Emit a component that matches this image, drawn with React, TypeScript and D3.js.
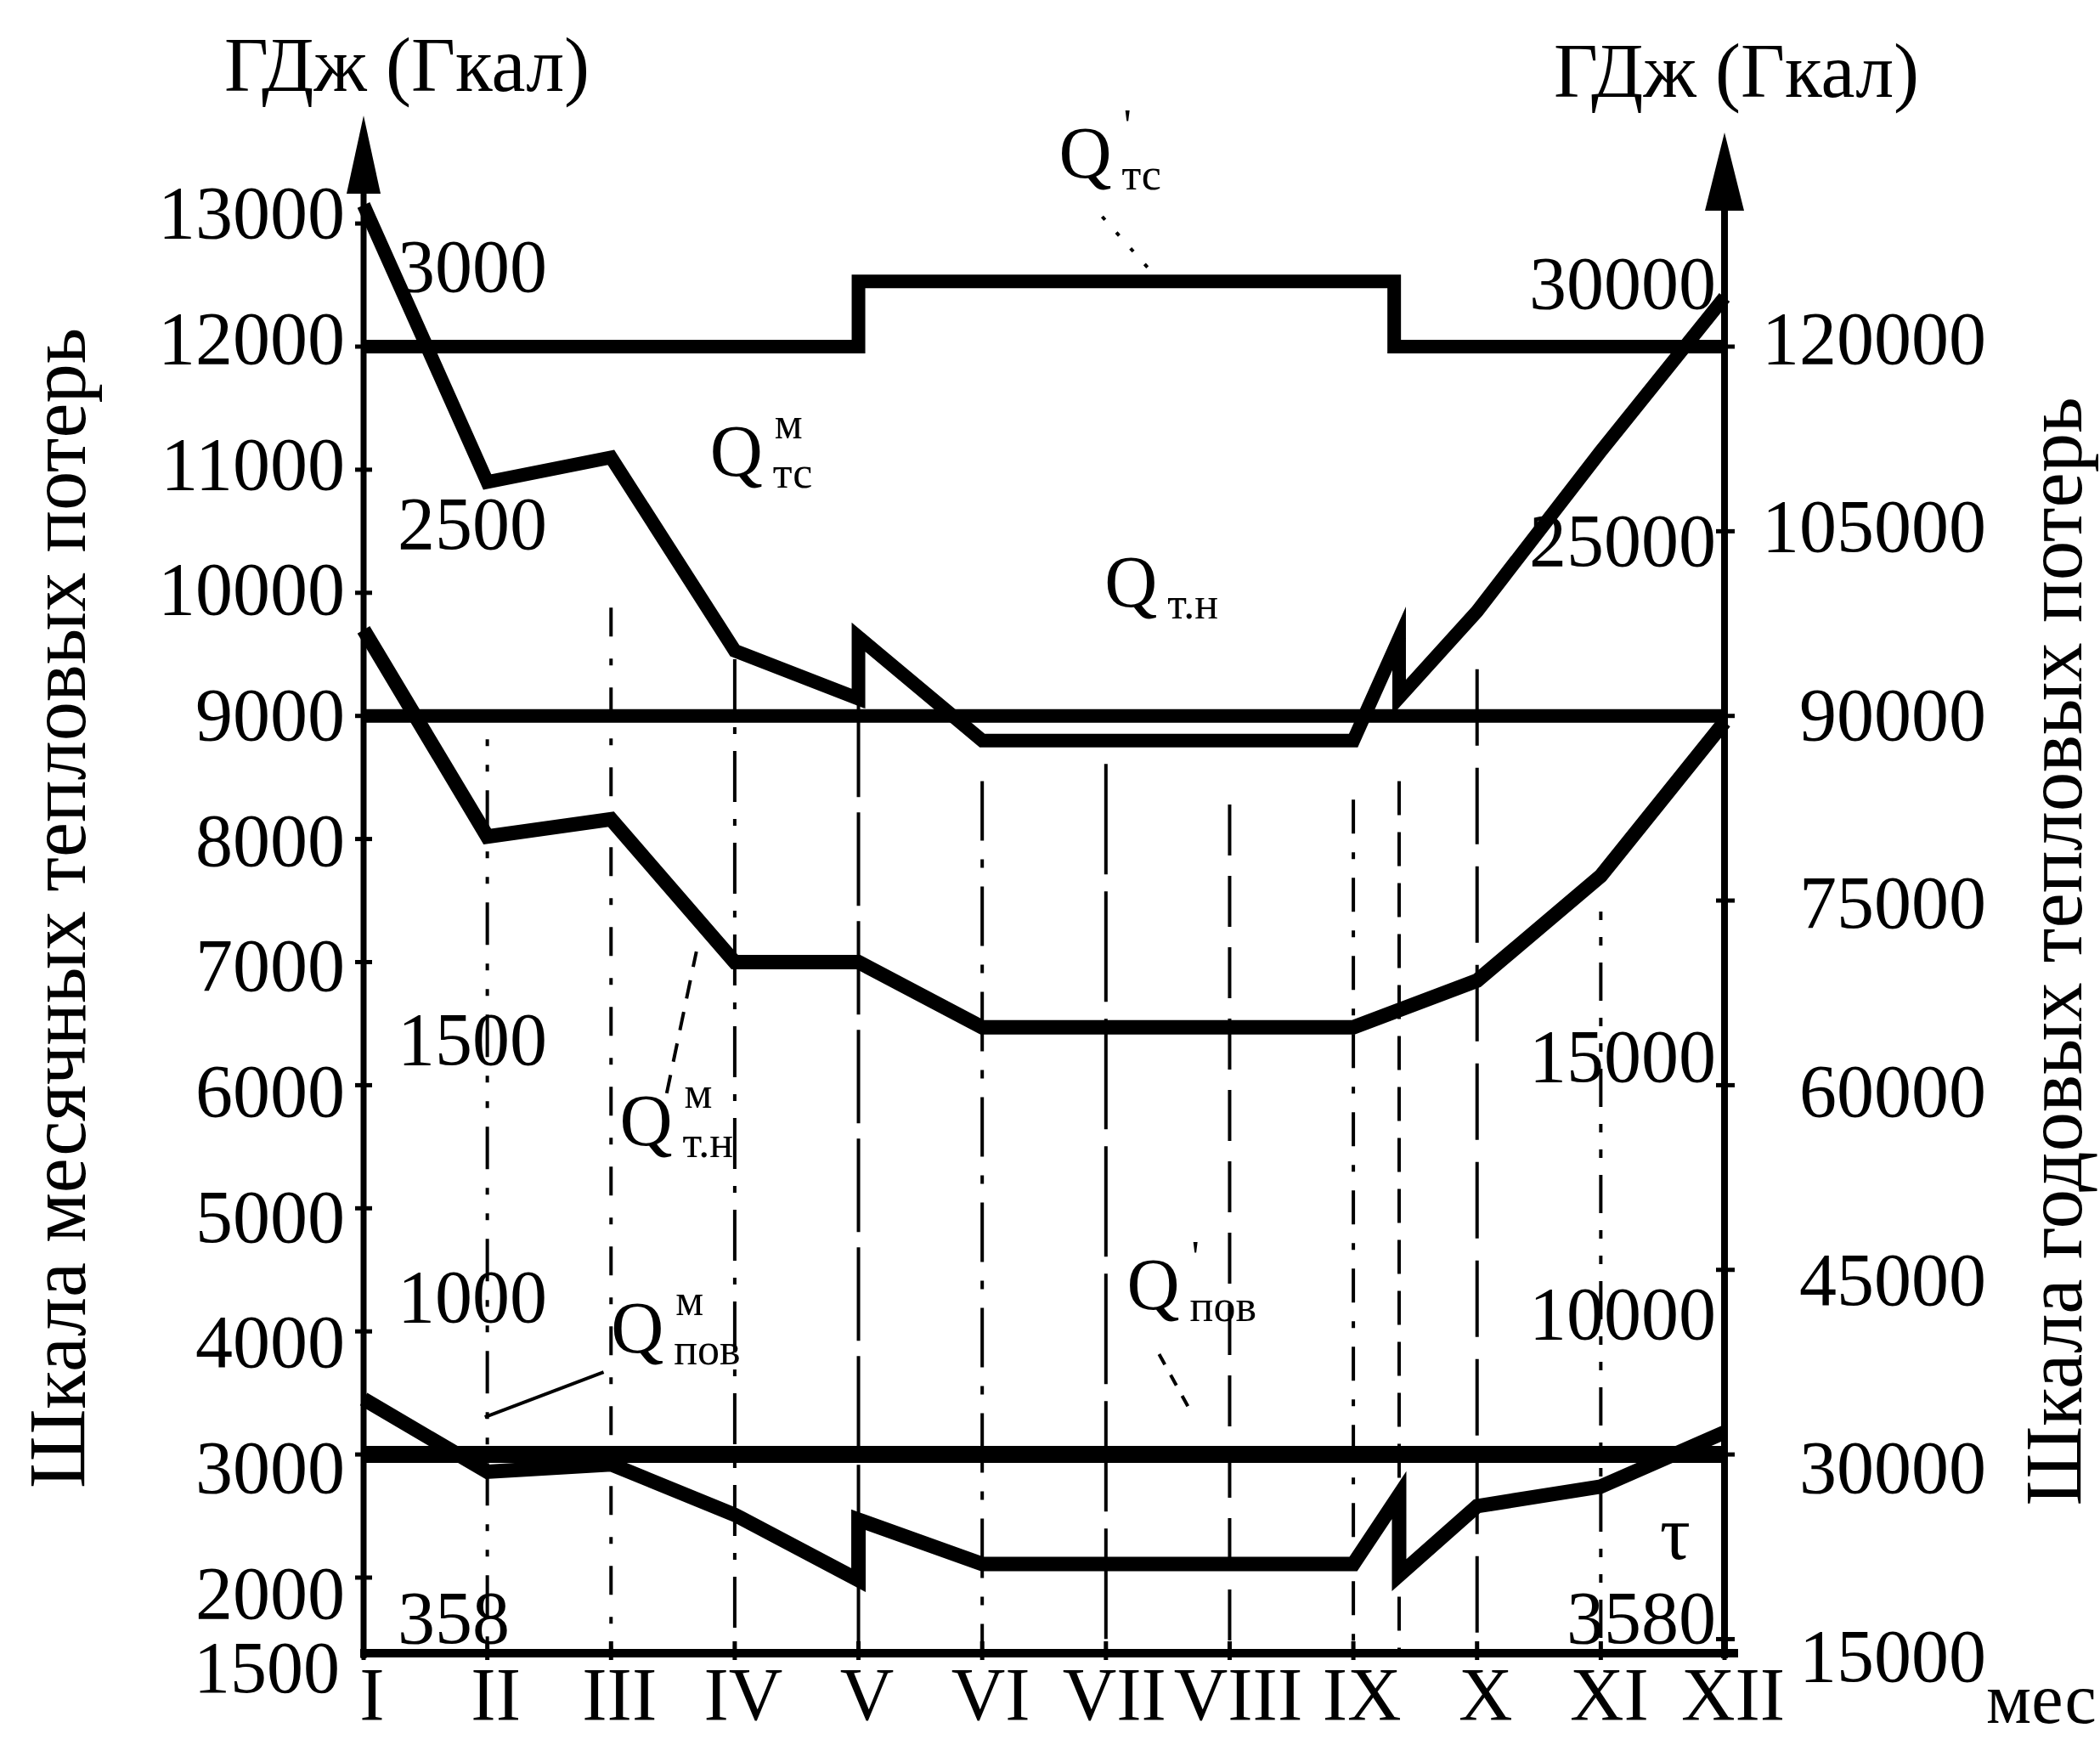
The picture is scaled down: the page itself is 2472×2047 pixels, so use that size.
import React from "react";
import * as d3 from "d3";

// ---------- data ----------
const MONTHS = [1, 2, 3, 4, 5, 6, 7, 8, 9, 10, 11, 12];
const MONTH_LABELS = ["I", "II", "III", "IV", "V", "VI", "VII", "VIII", "IX", "X", "XI", "XII"];
const LEFT_TICKS = [13000, 12000, 11000, 10000, 9000, 8000, 7000, 6000, 5000, 4000, 3000, 2000];
const LEFT_AXIS_MIN_LABEL = "1500";
const RIGHT_TICKS = [120000, 105000, 90000, 75000, 60000, 45000, 30000, 15000];
const INNER_LEFT = [3000, 2500, 1500, 1000, 358]; // Гкал (month)
const INNER_RIGHT = [30000, 25000, 15000, 10000, 3580]; // Гкал (year)
const GJ_PER_GCAL = 4.1868;

// series: [month, ГДж on the monthly scale]
const Q_TC_YEAR: [number, number][] = [[1, 12000], [5, 12000], [5, 12530], [9.33, 12530], [9.33, 12000], [12, 12000]];
const Q_M_TC: [number, number][] = [[1, 13150], [2, 10900], [3, 11100], [4, 9530], [5, 9140], [5, 9640], [6, 8800], [9, 8800], [9.37, 9630], [9.37, 9150], [10, 9850], [11, 11150], [12, 12400]];
const Q_TN_YEAR: [number, number][] = [[1, 9000], [12, 9000]];
const Q_M_TN: [number, number][] = [[1, 9700], [2, 8020], [3, 8160], [4, 7000], [5, 7000], [6, 6470], [9, 6470], [10, 6850], [11, 7700], [12, 8950]];
const Q_POV_YEAR: [number, number][] = [[1, 3000], [12, 3000]];
const Q_M_POV: [number, number][] = [[1, 3450], [2, 2860], [3, 2920], [4, 2510], [5, 1980], [5, 2470], [6, 2110], [9, 2110], [9.37, 2670], [9.37, 2020], [10, 2580], [11, 2740], [12, 3180]];

// vertical month lines (month, top value)
const GRID_MONTHS = [2, 3, 4, 5, 6, 7, 8, 9, 9.37, 10, 11];
const GRID_TOPS = [8810, 9880, 9460, 9100, 8470, 8610, 8280, 8320, 8470, 9380, 7410];

// curve labels
const Q_LABELS = [
  { m: 6.62, v: 13370, sup: "'", sub: "тс" },
  { m: 3.8, v: 10950, sup: "м", sub: "тс" },
  { m: 6.99, v: 9890, sup: "", sub: "т.н" },
  { m: 3.07, v: 5510, sup: "м", sub: "т.н" },
  { m: 3.0, v: 3830, sup: "м", sub: "пов" },
  { m: 7.17, v: 4180, sup: "'", sub: "пов" },
];
const LEADERS: { a: [number, number]; b: [number, number] }[] = [
  { a: [6.97, 13056], b: [7.38, 12594] },
  { a: [3.45, 5934], b: [3.69, 7086] },
  { a: [1.98, 3304], b: [2.94, 3670] },
  { a: [7.43, 3815], b: [7.68, 3360] },
];
const TAU_POS: [number, number] = [11.6, 2150];

// ---------- styles ----------
const GRID_DASHES = ["8 22 8 22 50 22", "34 26 8 26", "60 20 8 20", "110 18", "70 22 10 22", "130 20", "60 24", "40 22 8 22", "40 20", "90 26", "10 20 10 20 45 20"];
const LEADER_DASHES = ["5 20", "22 16", "", "14 14"];
const FONT = "'Liberation Serif', 'Times New Roman', serif";

export default function App() {
  const W = 2472;
  const H = 2047;
  const x = d3.scaleLinear().domain([1, 12]).range([428, 2030]);
  const y = d3.scaleLinear().domain([2000, 12000]).range([1857, 408]);
  const yR = d3.scaleLinear().domain([20000, 120000]).range([1857, 408]);
  const Y0 = 1946;
  const XL = x(1);
  const XR = x(12);
  // tick-label baseline: labels drift slightly relative to their ticks in the original drawing
  const labelBase = (v: number) => y(v) + 45 - (v - 3000) * 0.0028;

  const line = d3
    .line<[number, number]>()
    .x((d) => x(d[0]))
    .y((d) => y(d[1]))
    .curve(d3.curveLinear);

  const series = [
    { d: Q_TC_YEAR, w: 16 },
    { d: Q_TN_YEAR, w: 16 },
    { d: Q_POV_YEAR, w: 20 },
    { d: Q_M_TC, w: 16 },
    { d: Q_M_TN, w: 17 },
    { d: Q_M_POV, w: 17 },
  ];

  return (
    <svg
      width={W}
      height={H}
      viewBox={`0 0 ${W} ${H}`}
      style={{ position: "absolute", left: 0, top: 0, background: "#fff" }}
      fontFamily={FONT}
    >
      <rect x={0} y={0} width={W} height={H} fill="#fff" />

      {/* vertical month lines */}
      {GRID_MONTHS.map((m, i) => (
        <line
          key={"g" + i}
          x1={x(m)}
          x2={x(m)}
          y1={y(GRID_TOPS[i])}
          y2={Y0}
          stroke="#000"
          strokeWidth={4}
          strokeDasharray={GRID_DASHES[i % GRID_DASHES.length]}
        />
      ))}

      {/* x-axis month ticks */}
      {MONTHS.map((m) => (
        <line key={"xt" + m} x1={x(m)} x2={x(m)} y1={Y0 - 14} y2={Y0 + 8} stroke="#000" strokeWidth={5} />
      ))}

      {/* data lines */}
      {series.map((s, i) => (
        <path
          key={"s" + i}
          d={line(s.d) || ""}
          fill="none"
          stroke="#000"
          strokeWidth={s.w}
          strokeLinejoin="miter"
          strokeMiterlimit={6}
          strokeLinecap="butt"
        />
      ))}

      {/* leader lines */}
      {LEADERS.map((l, i) => (
        <line
          key={"ld" + i}
          x1={x(l.a[0])}
          y1={y(l.a[1])}
          x2={x(l.b[0])}
          y2={y(l.b[1])}
          stroke="#000"
          strokeWidth={4}
          strokeDasharray={LEADER_DASHES[i] || undefined}
        />
      ))}

      {/* axes */}
      <line x1={XL} x2={XL} y1={Y0 + 6} y2={222} stroke="#000" strokeWidth={7} />
      <polygon points={`${XL},136 ${XL - 20},228 ${XL + 20},228`} fill="#000" />
      <line x1={XR} x2={XR} y1={Y0 + 6} y2={242} stroke="#000" strokeWidth={8} />
      <polygon points={`${XR},156 ${XR - 23},248 ${XR + 23},248`} fill="#000" />
      <line x1={XL - 4} x2={XR + 16} y1={Y0} y2={Y0} stroke="#000" strokeWidth={10} />

      {/* left ticks + labels */}
      {LEFT_TICKS.map((v) => (
        <g key={"lt" + v}>
          <line x1={XL - 10} x2={XL + 10} y1={y(v)} y2={y(v)} stroke="#000" strokeWidth={5} />
          <text x={406} y={labelBase(v)} fontSize={88} textAnchor="end">
            {v}
          </text>
        </g>
      ))}
      <text x={400} y={Y0 + 46} fontSize={86} textAnchor="end">
        {LEFT_AXIS_MIN_LABEL}
      </text>

      {/* right ticks + labels */}
      {RIGHT_TICKS.map((v) => (
        <g key={"rt" + v}>
          <line x1={XR - 10} x2={XR + 12} y1={yR(v)} y2={yR(v)} stroke="#000" strokeWidth={5} />
          <text x={2338} y={labelBase(v / 10)} fontSize={88} textAnchor="end">
            {v}
          </text>
        </g>
      ))}

      {/* inner Гкал labels */}
      {INNER_LEFT.map((g) => (
        <text key={"il" + g} x={XL + 40} y={Math.min(y(g * GJ_PER_GCAL) + 16, Y0 - 12)} fontSize={88}>
          {g}
        </text>
      ))}
      {INNER_RIGHT.map((g) => (
        <text
          key={"ir" + g}
          x={XR - 10}
          y={Math.min(yR(g * GJ_PER_GCAL) + 36, Y0 - 12)}
          fontSize={88}
          textAnchor="end"
        >
          {g}
        </text>
      ))}

      {/* month labels */}
      {MONTHS.map((m, i) => (
        <text key={"ml" + m} x={x(m) + 10} y={2024} fontSize={88} textAnchor="middle">
          {MONTH_LABELS[i]}
        </text>
      ))}
      <text x={2338} y={2028} fontSize={84}>
        мес
      </text>

      {/* curve labels */}
      {Q_LABELS.map((q, i) => {
        const qx = x(q.m);
        const qy = y(q.v);
        return (
          <g key={"q" + i}>
            <text x={qx} y={qy} fontSize={86}>
              Q
            </text>
            {q.sup && (
              <text x={qx + 76} y={qy - 44} fontSize={52}>
                {q.sup}
              </text>
            )}
            {q.sub && (
              <text x={qx + 74} y={qy + 14} fontSize={52}>
                {q.sub}
              </text>
            )}
          </g>
        );
      })}
      <text x={x(TAU_POS[0])} y={y(TAU_POS[1])} fontSize={90} textAnchor="middle">
        τ
      </text>

      {/* unit titles */}
      <text x={XL + 51} y={107} fontSize={90} textAnchor="middle">
        ГДж (Гкал)
      </text>
      <text x={XR + 14} y={114} fontSize={90} textAnchor="middle">
        ГДж (Гкал)
      </text>

      {/* axis titles */}
      <text
        transform="translate(100,1069) rotate(-90)"
        fontSize={96}
        textAnchor="middle"
        textLength={1366}
        lengthAdjust="spacingAndGlyphs"
      >
        Шкала месячных тепловых потерь
      </text>
      <text
        transform="translate(2450,1120) rotate(-90)"
        fontSize={96}
        textAnchor="middle"
        textLength={1305}
        lengthAdjust="spacingAndGlyphs"
      >
        Шкала годовых тепловых потерь
      </text>
    </svg>
  );
}
